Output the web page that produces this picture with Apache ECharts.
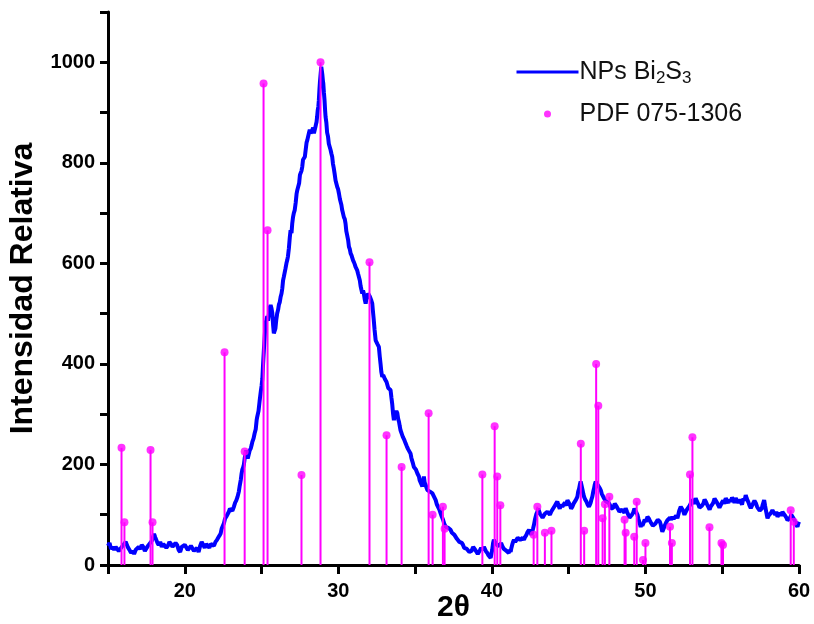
<!DOCTYPE html>
<html>
<head>
<meta charset="utf-8">
<script src="https://cdn.jsdelivr.net/npm/echarts@6/dist/echarts.min.js"></script>
<style>
  html, body { margin: 0; padding: 0; background: #fff; }
  #chart { width: 814px; height: 624px; }
</style>
</head>
<body>
<div id="chart"></div>
<script>
// Diffractogram of Bi2S3 nanoparticles: [2θ (deg), relative intensity]
const scanPoints = [
  [15.0,38],[15.1,44],[15.2,32],[15.3,36],[15.4,30],[15.5,36],[15.6,34],[15.7,28],[15.8,30],[15.9,36],
  [16.0,40],[16.15,46],[16.3,35],[16.4,30],[16.5,24],[16.6,28],[16.7,22],[16.8,30],[16.9,28],[17.0,36],
  [17.1,32],[17.2,40],[17.3,36],[17.4,28],[17.5,30],[17.6,38],[17.7,40],[17.85,48],[18.0,62],[18.08,55],
  [18.15,52],[18.22,44],[18.3,40],[18.4,46],[18.5,36],[18.6,42],[18.7,44],[18.8,34],[18.9,38],[19.0,46],
  [19.1,42],[19.2,36],[19.3,34],[19.4,44],[19.5,40],[19.6,30],[19.7,26],[19.8,36],[19.9,34],[20.0,40],
  [20.1,38],[20.2,30],[20.3,32],[20.4,38],[20.5,36],[20.6,28],[20.7,30],[20.8,34],[20.9,26],[21.0,38],
  [21.1,46],[21.2,40],[21.3,34],[21.4,42],[21.5,38],[21.6,34],[21.7,42],[21.8,44],[21.9,38],[22.0,46],
  [22.1,50],[22.18,48],[22.25,58],[22.33,62],[22.4,72],[22.48,70],[22.55,83],[22.62,92],[22.7,96],[22.78,94],
  [22.87,106],[22.94,112],[23.0,112],[23.1,108],[23.2,116],[23.28,124],[23.35,128],[23.44,136],[23.52,146],[23.58,158],
  [23.65,170],[23.7,182],[23.75,190],[23.8,194],[23.85,200],[23.9,212],[23.96,210],[24.0,228],[24.05,224],[24.1,212],
  [24.17,215],[24.23,228],[24.3,232],[24.35,238],[24.4,245],[24.48,252],[24.55,262],[24.62,270],[24.68,288],[24.72,295],
  [24.8,306],[24.87,325],[24.95,345],[25.0,356],[25.05,370],[25.1,400],[25.15,427],[25.2,452],[25.26,481],[25.32,488],
  [25.37,495],[25.42,486],[25.48,500],[25.53,512],[25.59,517],[25.65,510],[25.7,501],[25.75,478],[25.8,461],[25.85,458],
  [25.9,470],[25.96,488],[26.02,501],[26.08,508],[26.13,518],[26.18,522],[26.24,533],[26.3,540],[26.35,550],[26.4,566],
  [26.45,573],[26.5,572],[26.56,590],[26.62,600],[26.67,606],[26.72,614],[26.78,630],[26.84,652],[26.89,666],[26.95,660],
  [27.0,680],[27.05,692],[27.1,700],[27.16,706],[27.22,720],[27.28,738],[27.33,746],[27.4,744],[27.45,760],[27.5,776],
  [27.54,779],[27.6,784],[27.65,792],[27.7,806],[27.76,805],[27.82,812],[27.87,825],[27.93,840],[27.98,845],[28.03,852],
  [28.09,860],[28.14,866],[28.19,859],[28.25,858],[28.3,865],[28.36,870],[28.41,859],[28.46,862],[28.5,870],[28.54,876],
  [28.58,881],[28.62,892],[28.66,905],[28.7,912],[28.73,924],[28.77,946],[28.8,960],[28.85,978],[28.89,991],[28.93,982],
  [28.96,975],[29.0,962],[29.02,958],[29.06,940],[29.1,925],[29.14,904],[29.17,891],[29.22,880],[29.27,860],[29.33,852],
  [29.38,838],[29.44,836],[29.5,825],[29.55,818],[29.6,812],[29.65,798],[29.7,790],[29.76,778],[29.82,765],[29.88,762],
  [29.93,752],[29.98,748],[30.04,739],[30.1,728],[30.15,722],[30.2,716],[30.25,706],[30.3,700],[30.36,692],[30.42,688],
  [30.47,679],[30.52,664],[30.58,655],[30.64,646],[30.69,633],[30.75,628],[30.8,620],[30.86,616],[30.91,613],[30.96,606],
  [31.02,602],[31.07,598],[31.12,593],[31.18,590],[31.23,586],[31.28,580],[31.34,573],[31.4,566],[31.45,555],[31.5,548],
  [31.56,540],[31.61,546],[31.66,540],[31.72,528],[31.78,520],[31.83,530],[31.88,527],[31.94,540],[31.99,537],[32.05,534],
  [32.1,530],[32.15,526],[32.21,520],[32.25,506],[32.3,490],[32.36,468],[32.43,447],[32.48,450],[32.54,440],[32.59,438],
  [32.64,434],[32.7,414],[32.75,400],[32.8,384],[32.86,374],[32.92,378],[32.97,380],[33.03,370],[33.08,368],[33.14,364],
  [33.19,361],[33.25,352],[33.3,355],[33.35,352],[33.4,348],[33.46,332],[33.51,320],[33.56,302],[33.62,288],[33.67,300],
  [33.73,298],[33.78,306],[33.84,302],[33.9,290],[33.95,285],[34.0,276],[34.05,268],[34.12,262],[34.2,255],[34.28,250],
  [34.38,242],[34.46,236],[34.55,230],[34.62,228],[34.7,222],[34.75,214],[34.8,208],[34.86,202],[34.92,195],[34.98,196],
  [35.05,190],[35.1,186],[35.15,182],[35.2,180],[35.25,176],[35.3,168],[35.36,165],[35.42,160],[35.47,156],[35.52,168],
  [35.57,176],[35.62,164],[35.68,160],[35.74,154],[35.8,149],[35.88,150],[35.95,146],[36.03,146],[36.12,143],[36.18,140],
  [36.23,136],[36.28,134],[36.34,129],[36.42,120],[36.5,115],[36.58,110],[36.66,103],[36.74,96],[36.82,90],[36.9,82],
  [36.99,76],[37.07,78],[37.15,74],[37.23,72],[37.31,70],[37.4,64],[37.48,62],[37.56,60],[37.64,56],[37.72,52],
  [37.8,50],[37.88,46],[37.96,43],[38.04,44],[38.12,40],[38.2,34],[38.29,36],[38.37,32],[38.45,30],[38.53,26],
  [38.61,24],[38.67,28],[38.72,30],[38.78,36],[38.83,36],[38.92,30],[39.0,28],[39.08,22],[39.16,24],[39.23,30],
  [39.3,34],[39.4,30],[39.48,36],[39.54,32],[39.6,28],[39.65,30],[39.7,24],[39.76,20],[39.81,17],[39.87,20],
  [39.92,14],[39.97,22],[40.02,30],[40.08,44],[40.13,50],[40.2,46],[40.3,42],[40.38,38],[40.46,36],[40.53,40],
  [40.6,44],[40.7,36],[40.78,32],[40.86,34],[40.95,28],[41.02,26],[41.1,24],[41.16,30],[41.22,26],[41.27,34],
  [41.32,40],[41.38,46],[41.44,50],[41.52,46],[41.6,48],[41.68,54],[41.76,56],[41.84,50],[41.92,48],[42.0,54],
  [42.09,50],[42.17,56],[42.25,60],[42.33,66],[42.42,70],[42.48,66],[42.53,64],[42.58,60],[42.63,63],[42.68,72],
  [42.74,80],[42.8,90],[42.85,96],[42.9,102],[42.96,106],[43.02,112],[43.07,109],[43.13,102],[43.2,100],[43.3,94],
  [43.39,96],[43.45,102],[43.5,104],[43.56,100],[43.61,106],[43.7,104],[43.78,100],[43.86,106],[43.94,109],[44.02,114],
  [44.1,118],[44.18,122],[44.26,126],[44.34,118],[44.42,112],[44.5,120],[44.59,116],[44.67,120],[44.75,124],[44.84,118],
  [44.92,129],[45.0,126],[45.08,120],[45.16,112],[45.24,116],[45.32,122],[45.4,124],[45.48,130],[45.57,136],[45.62,146],
  [45.68,152],[45.73,160],[45.78,166],[45.84,158],[45.9,150],[45.95,142],[46.0,136],[46.08,130],[46.16,126],[46.24,120],
  [46.32,116],[46.38,120],[46.43,124],[46.48,130],[46.54,136],[46.6,146],[46.65,152],[46.7,160],[46.76,166],[46.82,162],
  [46.87,164],[46.92,158],[46.98,159],[47.04,152],[47.1,148],[47.15,142],[47.2,139],[47.28,134],[47.35,132],[47.44,126],
  [47.52,129],[47.6,124],[47.68,120],[47.76,112],[47.85,109],[47.9,114],[47.95,118],[48.0,122],[48.06,123],[48.13,116],
  [48.2,112],[48.3,106],[48.39,103],[48.47,110],[48.55,108],[48.63,104],[48.71,113],[48.8,106],[48.88,100],[48.96,94],
  [49.04,96],[49.12,100],[49.2,104],[49.28,112],[49.37,109],[49.42,104],[49.48,100],[49.54,92],[49.6,86],[49.65,80],
  [49.69,76],[49.75,82],[49.8,78],[49.88,84],[49.95,90],[50.04,86],[50.13,96],[50.18,94],[50.23,92],[50.32,86],
  [50.4,82],[50.48,78],[50.56,76],[50.64,82],[50.72,86],[50.8,90],[50.88,93],[50.94,86],[51.0,80],[51.05,72],
  [51.1,66],[51.18,72],[51.25,78],[51.34,84],[51.43,89],[51.52,86],[51.6,94],[51.68,90],[51.76,96],[51.84,92],
  [51.92,90],[52.0,98],[52.08,93],[52.14,100],[52.2,108],[52.25,112],[52.3,116],[52.38,112],[52.45,108],[52.54,100],
  [52.62,103],[52.7,110],[52.8,112],[52.88,118],[52.95,123],[53.02,130],[53.1,128],[53.18,122],[53.27,133],[53.36,126],
  [53.45,120],[53.52,114],[53.6,113],[53.68,118],[53.77,122],[53.85,130],[53.93,126],[54.02,120],[54.1,118],[54.18,110],
  [54.25,116],[54.34,120],[54.42,124],[54.5,132],[54.58,129],[54.66,124],[54.75,122],[54.82,114],[54.9,119],[54.98,124],
  [55.06,128],[55.14,122],[55.23,133],[55.3,128],[55.4,124],[55.48,130],[55.56,126],[55.64,134],[55.72,130],[55.8,124],
  [55.88,133],[55.96,128],[56.05,124],[56.13,130],[56.21,126],[56.29,120],[56.37,132],[56.45,128],[56.53,139],[56.6,132],
  [56.7,125],[56.78,118],[56.86,113],[56.94,118],[57.02,120],[57.1,128],[57.19,123],[57.27,116],[57.35,112],[57.44,108],
  [57.52,106],[57.57,112],[57.62,118],[57.68,124],[57.73,129],[57.79,118],[57.85,108],[57.9,100],[57.95,93],[58.02,98],
  [58.1,100],[58.18,104],[58.27,109],[58.36,104],[58.45,100],[58.52,106],[58.6,96],[58.68,100],[58.75,104],[58.84,98],
  [58.92,106],[59.0,102],[59.1,98],[59.18,94],[59.25,89],[59.34,92],[59.42,94],[59.5,100],[59.58,96],[59.66,92],
  [59.75,86],[59.82,80],[59.9,76],[59.95,82],[60.0,86]
];

// Reference pattern PDF 075-1306: peak positions and relative intensities
const pdfTheta = [
  15.88,16.07,17.77,17.90,22.59,23.90,25.13,25.39,27.60,28.84,
  32.03,33.14,34.12,35.88,36.14,36.81,36.92,39.38,40.18,40.35,
  40.55,42.72,42.96,43.45,43.88,45.79,46.01,46.79,46.93,47.21,
  47.36,47.65,48.64,48.71,49.27,49.43,49.84,50.00,51.60,51.72,
  52.90,53.06,54.17,54.95,55.05,59.46,59.66
];
const pdfIntensity = [
  233,85,229,85,423,226,958,666,179,1000,
  602,258,195,302,100,116,72,180,276,176,
  119,60,116,64,68,241,68,400,317,93,
  121,136,90,64,56,126,10,44,76,44,
  180,254,75,44,40,109,86
];

const xTicks = { min: 15, max: 60, step: 5 };
const yTicks = { min: 0, max: 1100, step: 100 };

const pdfData = pdfTheta.map((t, i) => [t, pdfIntensity[i]]);

const BLUE = '#0000ff';
const MAGENTA = '#ff00ff';
const FONT = "'Liberation Sans', Arial, sans-serif";

const chart = echarts.init(document.getElementById('chart'), null, { renderer: 'canvas' });

chart.setOption({
  animation: false,
  backgroundColor: '#ffffff',
  grid: { left: 108, right: 15, top: 12, bottom: 59, containLabel: false, outerBoundsMode: 'none' },
  legend: {
    orient: 'vertical',
    left: 510,
    top: 45,
    itemWidth: 62,
    itemHeight: 7,
    itemGap: 12,
    data: [
      { name: 'NPs Bi2S3', itemStyle: { opacity: 0 }, lineStyle: { width: 3, color: BLUE } },
      { name: 'PDF 075-1306', icon: 'circle' }
    ],
    formatter: function (name) {
      if (name === 'NPs Bi2S3') return 'NPs Bi{sub|2}S{sub|3}';
      return name;
    },
    textStyle: {
      fontFamily: FONT,
      fontSize: 25,
      color: '#111',
      lineHeight: 30,
      padding: [0, 0, 0, -4],
      rich: {
        sub: { fontFamily: FONT, fontSize: 17, color: '#111', lineHeight: 17, padding: [20, 0, 0, 0], verticalAlign: 'bottom' }
      }
    }
  },
  xAxis: {
    type: 'value',
    min: xTicks.min,
    max: xTicks.max,
    interval: xTicks.step,
    name: '2θ',
    nameLocation: 'middle',
    nameGap: 28,
    nameMoveOverlap: false,
    nameTextStyle: { fontFamily: FONT, fontWeight: 'bold', fontSize: 30, color: '#000', verticalAlign: 'top' },
    axisLine: { show: true, onZero: false, lineStyle: { color: '#000', width: 3 } },
    axisTick: { show: true, inside: false, length: 9, lineStyle: { color: '#000', width: 3 } },
    axisLabel: {
      margin: 16,
      fontFamily: FONT, fontWeight: 'bold', fontSize: 20, color: '#000',
      formatter: v => (v % 10 === 0 ? String(v) : '')
    },
    splitLine: { show: false }
  },
  yAxis: {
    type: 'value',
    min: yTicks.min,
    max: yTicks.max,
    interval: yTicks.step,
    name: 'Intensidad Relativa',
    nameLocation: 'middle',
    nameRotate: 90,
    nameGap: 66,
    nameTextStyle: { fontFamily: FONT, fontWeight: 'bold', fontSize: 32, color: '#000' },
    axisLine: { show: true, onZero: false, lineStyle: { color: '#000', width: 3 } },
    axisTick: { show: true, inside: false, length: 8, lineStyle: { color: '#000', width: 3 } },
    axisLabel: {
      margin: 13,
      fontFamily: FONT, fontWeight: 'bold', fontSize: 20, color: '#000',
      formatter: v => (v % 200 === 0 ? String(v) : '')
    },
    splitLine: { show: false }
  },
  series: [
    {
      name: 'NPs Bi2S3',
      type: 'line',
      data: scanPoints,
      symbol: 'none',
      smooth: false,
      lineStyle: { color: BLUE, width: 4 },
      itemStyle: { color: BLUE },
      z: 2
    },
    {
      // vertical sticks for the reference pattern
      type: 'custom',
      data: pdfData,
      renderItem: function (params, api) {
        const top = api.coord([api.value(0), api.value(1)]);
        const base = api.coord([api.value(0), 0]);
        return {
          type: 'line',
          shape: { x1: top[0], y1: top[1], x2: base[0], y2: base[1] },
          style: { stroke: MAGENTA, lineWidth: 2 }
        };
      },
      z: 3,
      silent: true
    },
    {
      name: 'PDF 075-1306',
      type: 'scatter',
      data: pdfData,
      symbol: 'circle',
      symbolSize: 8,
      itemStyle: { color: MAGENTA },
      z: 4
    }
  ]
});
</script>
</body>
</html>
